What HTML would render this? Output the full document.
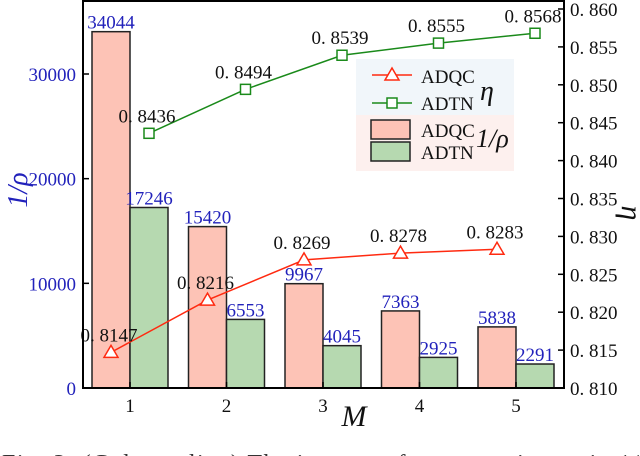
<!DOCTYPE html>
<html><head><meta charset="utf-8"><style>
html,body{margin:0;padding:0;background:#fff;width:640px;height:456px;overflow:hidden}
svg{display:block;font-family:"Liberation Serif",serif}
</style></head><body>
<svg id="chart" width="640" height="456"></svg>
<script>
const categories=[1,2,3,4,5];
const adqcRho=[34044,15420,9967,7363,5838];
const adtnRho=[17246,6553,4045,2925,2291];
const adqcEta=[0.8147,0.8216,0.8269,0.8278,0.8283];
const adtnEta=[0.8436,0.8494,0.8539,0.8555,0.8568];
const leftTicks=[0,10000,20000,30000];
const rightTicks=[0.810,0.815,0.820,0.825,0.830,0.835,0.840,0.845,0.850,0.855,0.860];

const NS="http://www.w3.org/2000/svg";
const svg=document.getElementById('chart');
const L=83,R=564,T=1,B=388;
const xC=c=>130+(c-1)*96.5;
const yL=v=>B-v*(B-74)/30000;
const yR=v=>B-(v-0.810)*(B-9)/0.050;
function mk(tag,attrs,parent){const e=document.createElementNS(NS,tag);for(const k in attrs)e.setAttribute(k,attrs[k]);(parent||svg).appendChild(e);return e;}
function txt(s,attrs,parent){const e=mk('text',attrs,parent);e.textContent=s;return e;}

categories.forEach((c,i)=>{
  let b=mk('rect',{x:xC(c)-38,y:yL(adqcRho[i]),width:38,height:B-yL(adqcRho[i]),fill:'#fdc3b6',stroke:'#222','stroke-width':1.5});
  
  
  let g=mk('rect',{x:xC(c),y:yL(adtnRho[i]),width:38,height:B-yL(adtnRho[i]),fill:'#b6d9b0',stroke:'#222','stroke-width':1.5});
  
  
  let t1=txt(String(adqcRho[i]),{x:xC(c)-19,y:yL(adqcRho[i])-3,'text-anchor':'middle','font-size':19,fill:'#2222bb'});
  
  
  let t2=txt(String(adtnRho[i]),{x:xC(c)+19,y:yL(adtnRho[i])-3,'text-anchor':'middle','font-size':19,fill:'#2222bb'});
  
  
});

function line(vals,col,marker,dx,name){
  const pts=categories.map((c,i)=>[xC(c)+dx,yR(vals[i])]);
  let p=mk('polyline',{points:pts.map(p=>p.join(',')).join(' '),fill:'none',stroke:col,'stroke-width':1.5});
  
  
  pts.forEach((q,i)=>{
    let m;
    if(marker==='tri') m=mk('polygon',{points:`${q[0]},${q[1]-7} ${q[0]-7},${q[1]+5} ${q[0]+7},${q[1]+5}`,fill:'#fff',stroke:col,'stroke-width':1.5});
    else m=mk('rect',{x:q[0]-5,y:q[1]-5,width:10,height:10,fill:'#fff',stroke:col,'stroke-width':1.5});
    
    
    let t=txt(vals[i].toFixed(4).replace('0.','0. '),{x:q[0]-2,y:q[1]-11,'text-anchor':'middle','font-size':19,fill:'#111'});
    
    
  });
}
line(adqcEta,'#ff2a10','tri',-19,'adqc-eta');
line(adtnEta,'#1a8a1a','sq',19,'adtn-eta');

let fr=mk('rect',{x:L,y:T,width:R-L,height:B-T,fill:'none',stroke:'#000','stroke-width':2});



leftTicks.forEach(v=>{
  mk('line',{x1:L,x2:L+6,y1:yL(v),y2:yL(v),stroke:'#000','stroke-width':1.5});
  let t=txt(String(v),{x:L-7,y:yL(v)+7,'text-anchor':'end','font-size':19,fill:'#2222bb'});
  
  
});
rightTicks.forEach(v=>{
  mk('line',{x1:R-6,x2:R,y1:yR(v),y2:yR(v),stroke:'#000','stroke-width':1.5});
  let t=txt(v.toFixed(3).replace('0.','0. '),{x:R+6,y:yR(v)+7,'font-size':19,fill:'#111'});
  
  
});
categories.forEach(c=>{
  mk('line',{x1:xC(c),x2:xC(c),y1:B,y2:B-6,stroke:'#000','stroke-width':1.5});
  let t=txt(String(c),{x:xC(c),y:B+24,'text-anchor':'middle','font-size':19,fill:'#111'});
  
  
});
</script>
<svg style="position:absolute;left:0;top:0" width="640" height="456">
<text x="27" y="190" font-size="28" font-style="italic" fill="#2222bb" transform="rotate(-90 27 190)" text-anchor="middle" font-family="Liberation Serif,serif">1/ρ</text>
<text x="622" y="213" font-size="30" font-style="italic" fill="#111" transform="rotate(90 622 213)" text-anchor="middle" font-family="Liberation Serif,serif">η</text>
<text x="354" y="426" font-size="30" font-style="italic" fill="#111" text-anchor="middle" font-family="Liberation Serif,serif">M</text>
<g font-family="Liberation Serif,serif">
<rect x="356" y="59" width="158" height="56" fill="#f1f6fa"/>
<rect x="356" y="115" width="158" height="56" fill="#fdf0ee"/>
<line x1="372" x2="412" y1="75" y2="75" stroke="#ff2a10" stroke-width="1.5"/>
<polygon points="392,68 385,80 399,80" fill="#fff" stroke="#ff2a10" stroke-width="1.5"/>
<text x="421" y="83" font-size="19" fill="#111">ADQC</text>
<line x1="372" x2="412" y1="103" y2="103" stroke="#1a8a1a" stroke-width="1.5"/>
<rect x="387" y="98" width="10" height="10" fill="#fff" stroke="#1a8a1a" stroke-width="1.5"/>
<text x="421" y="110" font-size="19" fill="#111">ADTN</text>
<text x="480" y="100" font-size="28" font-style="italic" fill="#111">η</text>
<rect x="371" y="120" width="39" height="19" fill="#fdc3b6" stroke="#222" stroke-width="1.5"/>
<text x="421" y="137" font-size="19" fill="#111">ADQC</text>
<rect x="371" y="142" width="39" height="19" fill="#b6d9b0" stroke="#222" stroke-width="1.5"/>
<text x="421" y="159" font-size="19" fill="#111">ADTN</text>
<text x="476" y="147" font-size="26" font-style="italic" fill="#111">1/ρ</text>
</g>
<text x="2" y="471" font-size="24" fill="#333" letter-spacing="1.5" font-family="Liberation Serif,serif">Fig. 3: (Color online) The inverse of compression ratio 1/ρ</text>
</svg>
</body></html>
